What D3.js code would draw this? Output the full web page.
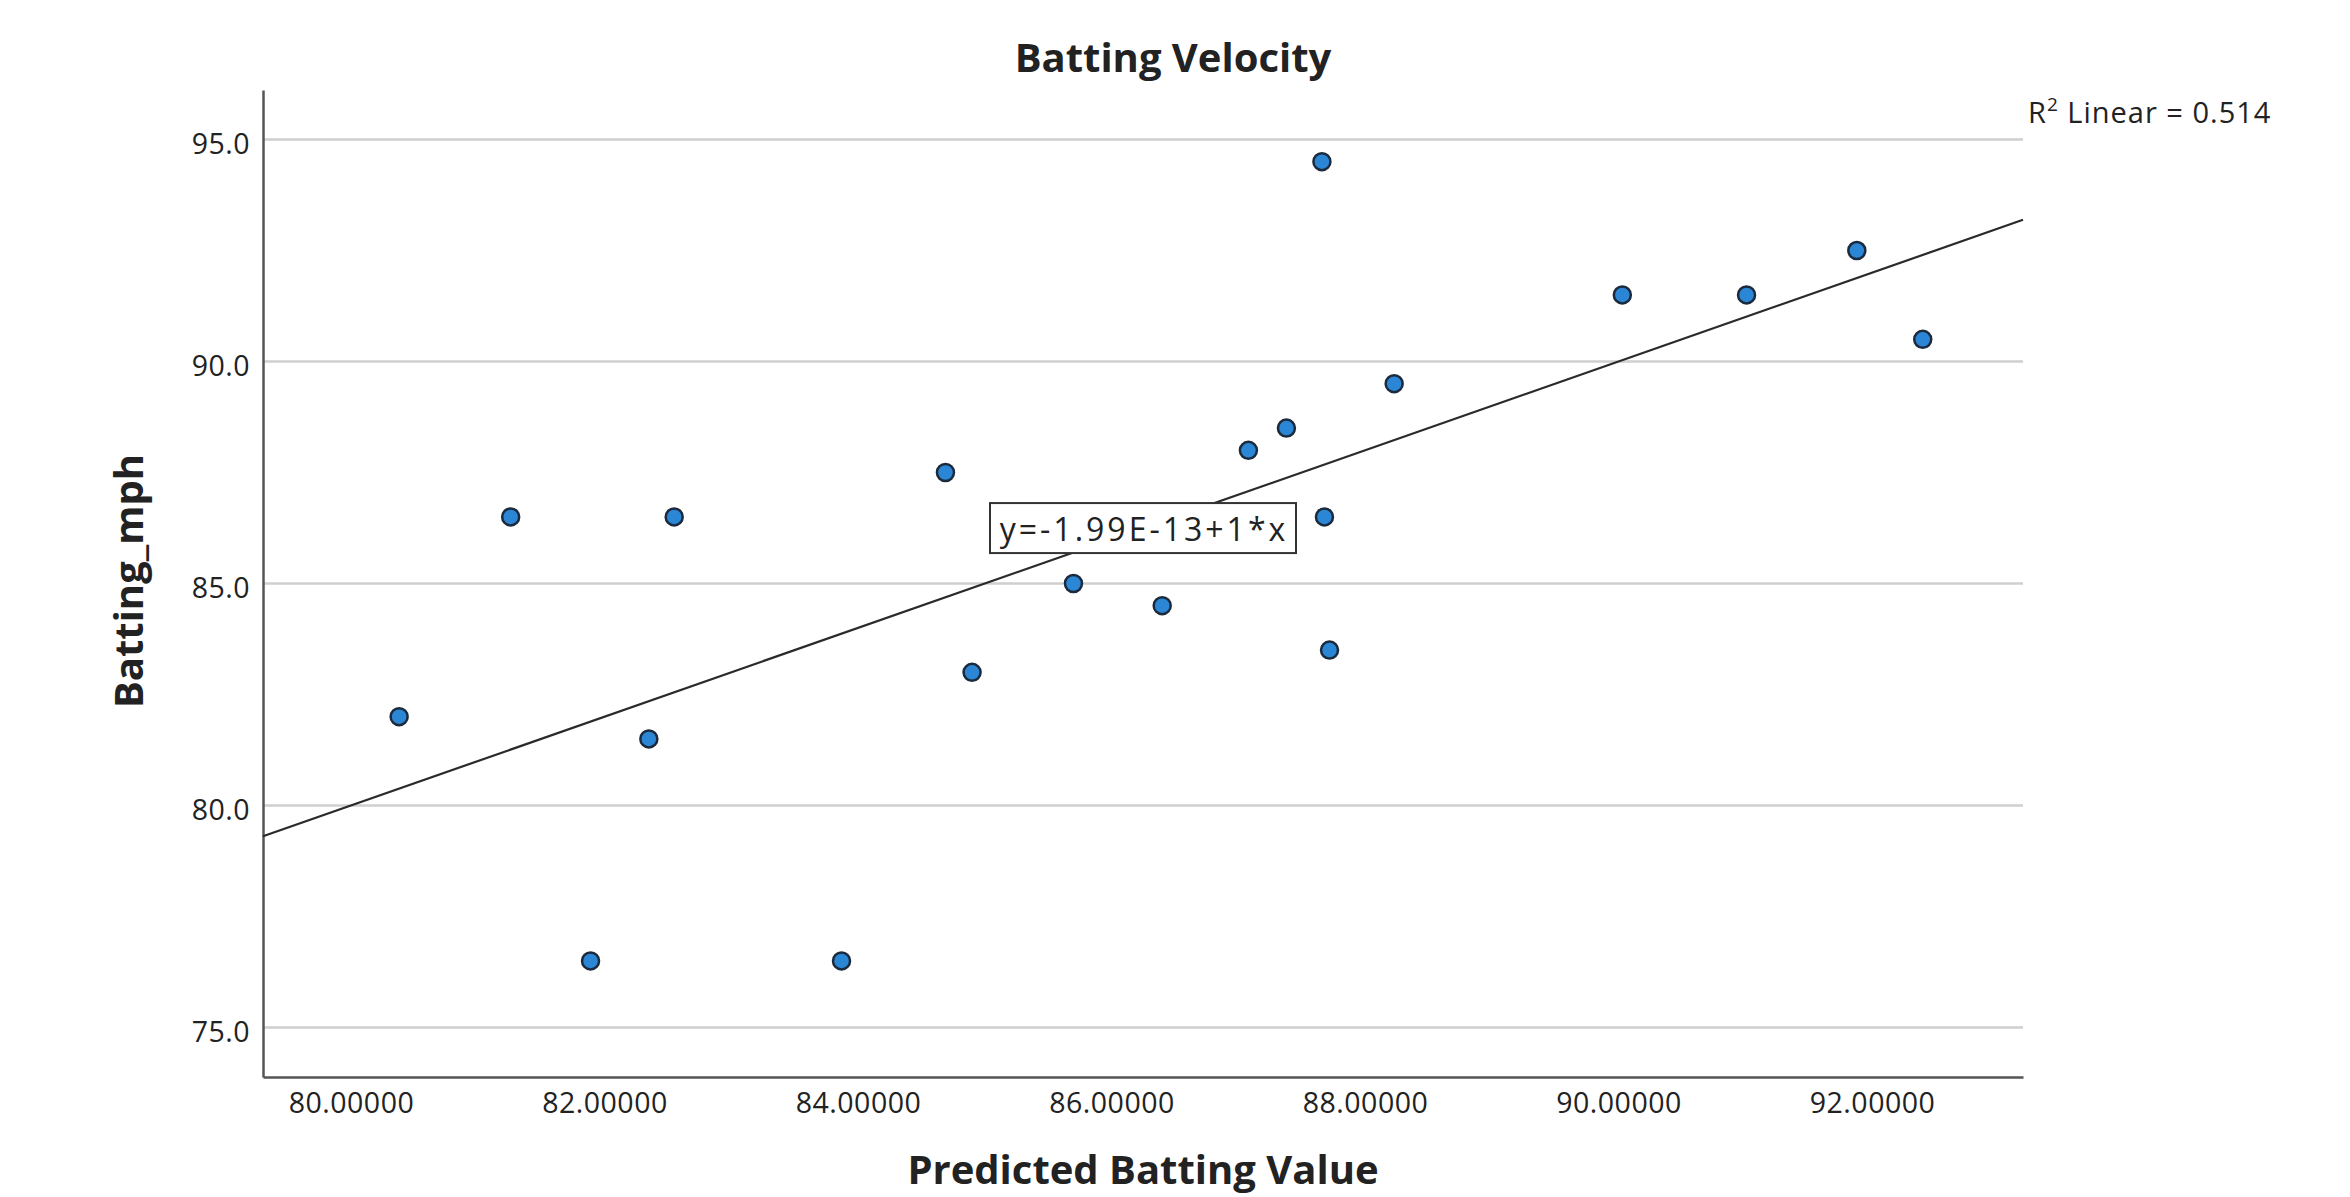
<!DOCTYPE html>
<html>
<head>
<meta charset="utf-8">
<script src="https://cdn.jsdelivr.net/npm/d3@7"></script>
<style>
  html, body { margin: 0; padding: 0; background: #fff; }
  svg { display: block; }
  text { font-family: "Open Sans", "Noto Sans", "DejaVu Sans", sans-serif; fill: #222; }
</style>
</head>
<body>
<svg id="chart" width="2350" height="1197"></svg>
<script>
// ---- Data ----
const predicted = [80.38, 81.26, 81.89, 82.35, 82.55, 83.87, 84.69, 84.90, 85.70, 86.40,
                   87.08, 87.38, 87.66, 87.68, 87.72, 88.23, 90.03, 91.01, 91.88, 92.40];
const battingMph = [82.0, 86.5, 76.5, 81.5, 86.5, 76.5, 87.5, 83.0, 85.0, 84.5,
                    88.0, 88.5, 94.5, 86.5, 83.5, 89.5, 91.5, 91.5, 92.5, 90.5];
const xTicks = [80, 82, 84, 86, 88, 90, 92];
const yTicks = [75, 80, 85, 90, 95];
const fitIntercept = -1.99e-13;
const fitSlope = 1;
const rSquared = 0.514;
const titleText = "Batting Velocity";
const xTitle = "Predicted Batting Value";
const yTitle = "Batting_mph";
const fitLabel = "y=-1.99E-13+1*x";

// ---- Layout ----
const plot = { left: 263, right: 2023, top: 90, bottom: 1077 };
const svg = d3.select("#chart");

const x = d3.scaleLinear().domain([79.306, 93.191]).range([plot.left, plot.right]);
const y = d3.scaleLinear().domain([73.885, 96.115]).range([plot.bottom, plot.top]);

// Gridlines
svg.append("g")
  .selectAll("line")
  .data(yTicks)
  .join("line")
  .attr("x1", plot.left).attr("x2", plot.right)
  .attr("y1", d => y(d)).attr("y2", d => y(d))
  .attr("stroke", "#cfcfcf").attr("stroke-width", 2.5);

// Y axis
const yAxis = d3.axisLeft(y).tickValues(yTicks).tickFormat(d3.format(".1f")).tickSize(0).tickPadding(13);
const gy = svg.append("g").attr("transform", `translate(${plot.left},0)`).call(yAxis);
gy.select(".domain").attr("stroke", "#555").attr("stroke-width", 2.5);
gy.selectAll("text").attr("font-size", 28.5).attr("fill", "#333").attr("letter-spacing", 0.5)
  .style("font-family", '"Open Sans", "Noto Sans", sans-serif').attr("dy", "0.5em");

// X axis
const xAxis = d3.axisBottom(x).tickValues(xTicks).tickFormat(d3.format(".5f")).tickSize(0).tickPadding(16);
const gx = svg.append("g").attr("transform", `translate(0,${plot.bottom})`).call(xAxis);
gx.select(".domain").attr("stroke", "#555").attr("stroke-width", 2.5);
gx.selectAll("text").attr("font-size", 28.5).attr("fill", "#333").attr("letter-spacing", 0.5)
  .style("font-family", '"Open Sans", "Noto Sans", sans-serif');

// Fit line
const xd = x.domain();
svg.append("line")
  .attr("x1", x(xd[0])).attr("y1", y(fitIntercept + fitSlope * xd[0]))
  .attr("x2", x(xd[1])).attr("y2", y(fitIntercept + fitSlope * xd[1]))
  .attr("stroke", "#2a2a2a").attr("stroke-width", 2.2);

// Points
svg.append("g")
  .selectAll("circle")
  .data(predicted.map((p, i) => ({ p, b: battingMph[i] })))
  .join("circle")
  .attr("cx", d => x(d.p)).attr("cy", d => y(d.b))
  .attr("r", 8.5)
  .attr("fill", "#2b87d6").attr("stroke", "#1b2a3c").attr("stroke-width", 2.5);

// Fit label box at the line's midpoint
const midX = (xd[0] + xd[1]) / 2;
const midY = fitIntercept + fitSlope * midX;
const lg = svg.append("g").attr("transform", `translate(${x(midX)},${y(midY)})`);
const boxW = 306, boxH = 50;
lg.append("rect").attr("x", -boxW / 2).attr("y", -boxH / 2).attr("width", boxW).attr("height", boxH)
  .attr("fill", "#fff").attr("stroke", "#333").attr("stroke-width", 2);
lg.append("text").attr("text-anchor", "middle").attr("y", 13).attr("x", 1)
  .attr("font-size", 32).attr("letter-spacing", 3).attr("fill", "#222").text(fitLabel);

// R-squared label
const r2 = svg.append("text").attr("x", 2028).attr("y", 123).attr("font-size", 29).attr("letter-spacing", 1).attr("fill", "#222");
r2.append("tspan").text("R");
r2.append("tspan").attr("font-size", 19).attr("dy", -12).text("2");
r2.append("tspan").attr("dy", 12).text(" Linear = " + d3.format(".3f")(rSquared));

// Titles
svg.append("text").attr("x", 1173).attr("y", 72).attr("text-anchor", "middle")
  .attr("font-size", 40).attr("font-weight", "bold").attr("fill", "#111").text(titleText);
svg.append("text").attr("x", (plot.left + plot.right) / 2).attr("y", 1184).attr("text-anchor", "middle")
  .attr("font-size", 40).attr("font-weight", "bold").attr("fill", "#111").text(xTitle);
svg.append("text").attr("transform", `translate(143,581) rotate(-90)`).attr("text-anchor", "middle")
  .attr("font-size", 40).attr("font-weight", "bold").attr("fill", "#111").text(yTitle);
</script>
</body>
</html>
